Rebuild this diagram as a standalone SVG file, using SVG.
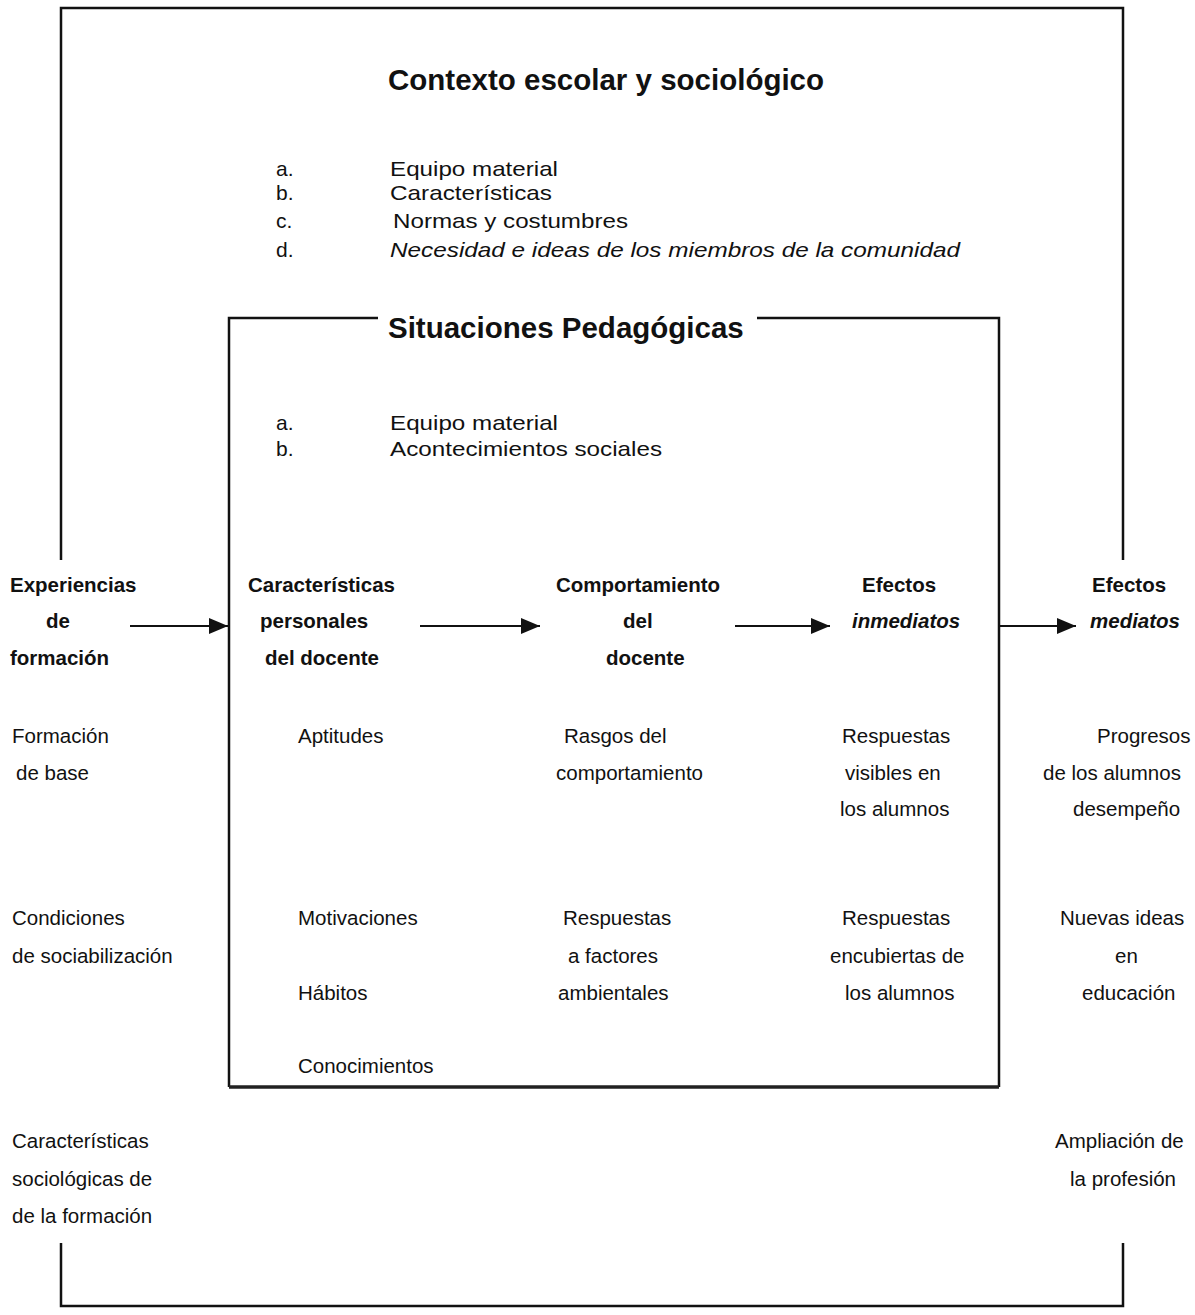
<svg xmlns="http://www.w3.org/2000/svg" width="1195" height="1315" viewBox="0 0 1195 1315">
<style>
text{font-family:"Liberation Sans",Arial,sans-serif;fill:#111}
.t{font-size:29.5px;font-weight:bold}
.l{font-size:21px}
.h{font-size:20.5px;font-weight:bold}
.r{font-size:20.5px}
.ln{stroke:#111;stroke-width:2.5;fill:none}
.ar{stroke:#111;stroke-width:2;fill:none}
</style>
<defs>
<marker id="ah2" markerWidth="19" markerHeight="16" refX="19" refY="8" orient="auto" markerUnits="userSpaceOnUse" viewBox="0 0 19 16">
<path d="M0,0 L19,8 L0,16 Z" fill="#111"/>
</marker>
</defs>
<g id="contexto">
<path class="ln" d="M61,560 V8 H1123 V560"/>
<path class="ln" d="M61,1243 V1306 H1123 V1243"/>
<text class="t" x="388" y="90">Contexto escolar y sociológico</text>
<text class="l" x="276" y="176">a.</text><text class="l" x="390" y="176" textLength="168" lengthAdjust="spacingAndGlyphs">Equipo material</text>
<text class="l" x="276" y="200">b.</text><text class="l" x="390" y="200" textLength="162" lengthAdjust="spacingAndGlyphs">Características</text>
<text class="l" x="276" y="228">c.</text><text class="l" x="393" y="228" textLength="235" lengthAdjust="spacingAndGlyphs">Normas y costumbres</text>
<text class="l" x="276" y="257">d.</text><text class="l" x="390" y="257" font-style="italic" textLength="570" lengthAdjust="spacingAndGlyphs">Necesidad e ideas de los miembros de la comunidad</text>
</g>
<g id="situaciones">
<path class="ln" d="M378,318 H229 V1087 M999,1087 V318 H757"/>
<line x1="229" y1="1087" x2="999" y2="1087" stroke="#222" stroke-width="3.5"/>
<text class="t" x="388" y="338">Situaciones Pedagógicas</text>
<text class="l" x="276" y="430">a.</text><text class="l" x="390" y="430" textLength="168" lengthAdjust="spacingAndGlyphs">Equipo material</text>
<text class="l" x="276" y="456">b.</text><text class="l" x="390" y="456" textLength="272" lengthAdjust="spacingAndGlyphs">Acontecimientos sociales</text>
</g>
<g id="experiencias">
<text class="h" x="10" y="592">Experiencias</text>
<text class="h" x="46" y="628">de</text>
<text class="h" x="10" y="665">formación</text>
<text class="r" x="12" y="743">Formación</text>
<text class="r" x="16" y="780">de base</text>
<text class="r" x="12" y="925">Condiciones</text>
<text class="r" x="12" y="963">de sociabilización</text>
<text class="r" x="12" y="1148">Características</text>
<text class="r" x="12" y="1186">sociológicas de</text>
<text class="r" x="12" y="1223">de la formación</text>
</g>
<g id="caracteristicas">
<text class="h" x="248" y="592">Características</text>
<text class="h" x="260" y="628">personales</text>
<text class="h" x="265" y="665">del docente</text>
<text class="r" x="298" y="743">Aptitudes</text>
<text class="r" x="298" y="925">Motivaciones</text>
<text class="r" x="298" y="1000">Hábitos</text>
<text class="r" x="298" y="1073">Conocimientos</text>
</g>
<g id="comportamiento">
<text class="h" x="556" y="592">Comportamiento</text>
<text class="h" x="623" y="628">del</text>
<text class="h" x="606" y="665">docente</text>
<text class="r" x="564" y="743">Rasgos del</text>
<text class="r" x="556" y="780">comportamiento</text>
<text class="r" x="563" y="925">Respuestas</text>
<text class="r" x="568" y="963">a  factores</text>
<text class="r" x="558" y="1000">ambientales</text>
</g>
<g id="inmediatos">
<text class="h" x="862" y="592">Efectos</text>
<text class="h" x="852" y="628" font-style="italic">inmediatos</text>
<text class="r" x="842" y="743">Respuestas</text>
<text class="r" x="845" y="780">visibles en</text>
<text class="r" x="840" y="816">los alumnos</text>
<text class="r" x="842" y="925">Respuestas</text>
<text class="r" x="830" y="963">encubiertas de</text>
<text class="r" x="845" y="1000">los alumnos</text>
</g>
<g id="mediatos">
<text class="h" x="1092" y="592">Efectos</text>
<text class="h" x="1090" y="628" font-style="italic">mediatos</text>
<text class="r" x="1097" y="743">Progresos</text>
<text class="r" x="1043" y="780">de los alumnos</text>
<text class="r" x="1073" y="816">desempeño</text>
<text class="r" x="1060" y="925">Nuevas ideas</text>
<text class="r" x="1115" y="963">en</text>
<text class="r" x="1082" y="1000">educación</text>
<text class="r" x="1055" y="1148">Ampliación de</text>
<text class="r" x="1070" y="1186">la profesión</text>
</g>
<g id="connectors">
<line class="ar" x1="130" y1="626" x2="228" y2="626" marker-end="url(#ah2)"/>
<line class="ar" x1="420" y1="626" x2="540" y2="626" marker-end="url(#ah2)"/>
<line class="ar" x1="735" y1="626" x2="830" y2="626" marker-end="url(#ah2)"/>
<line class="ar" x1="1000" y1="626" x2="1076" y2="626" marker-end="url(#ah2)"/>
</g>
</svg>
